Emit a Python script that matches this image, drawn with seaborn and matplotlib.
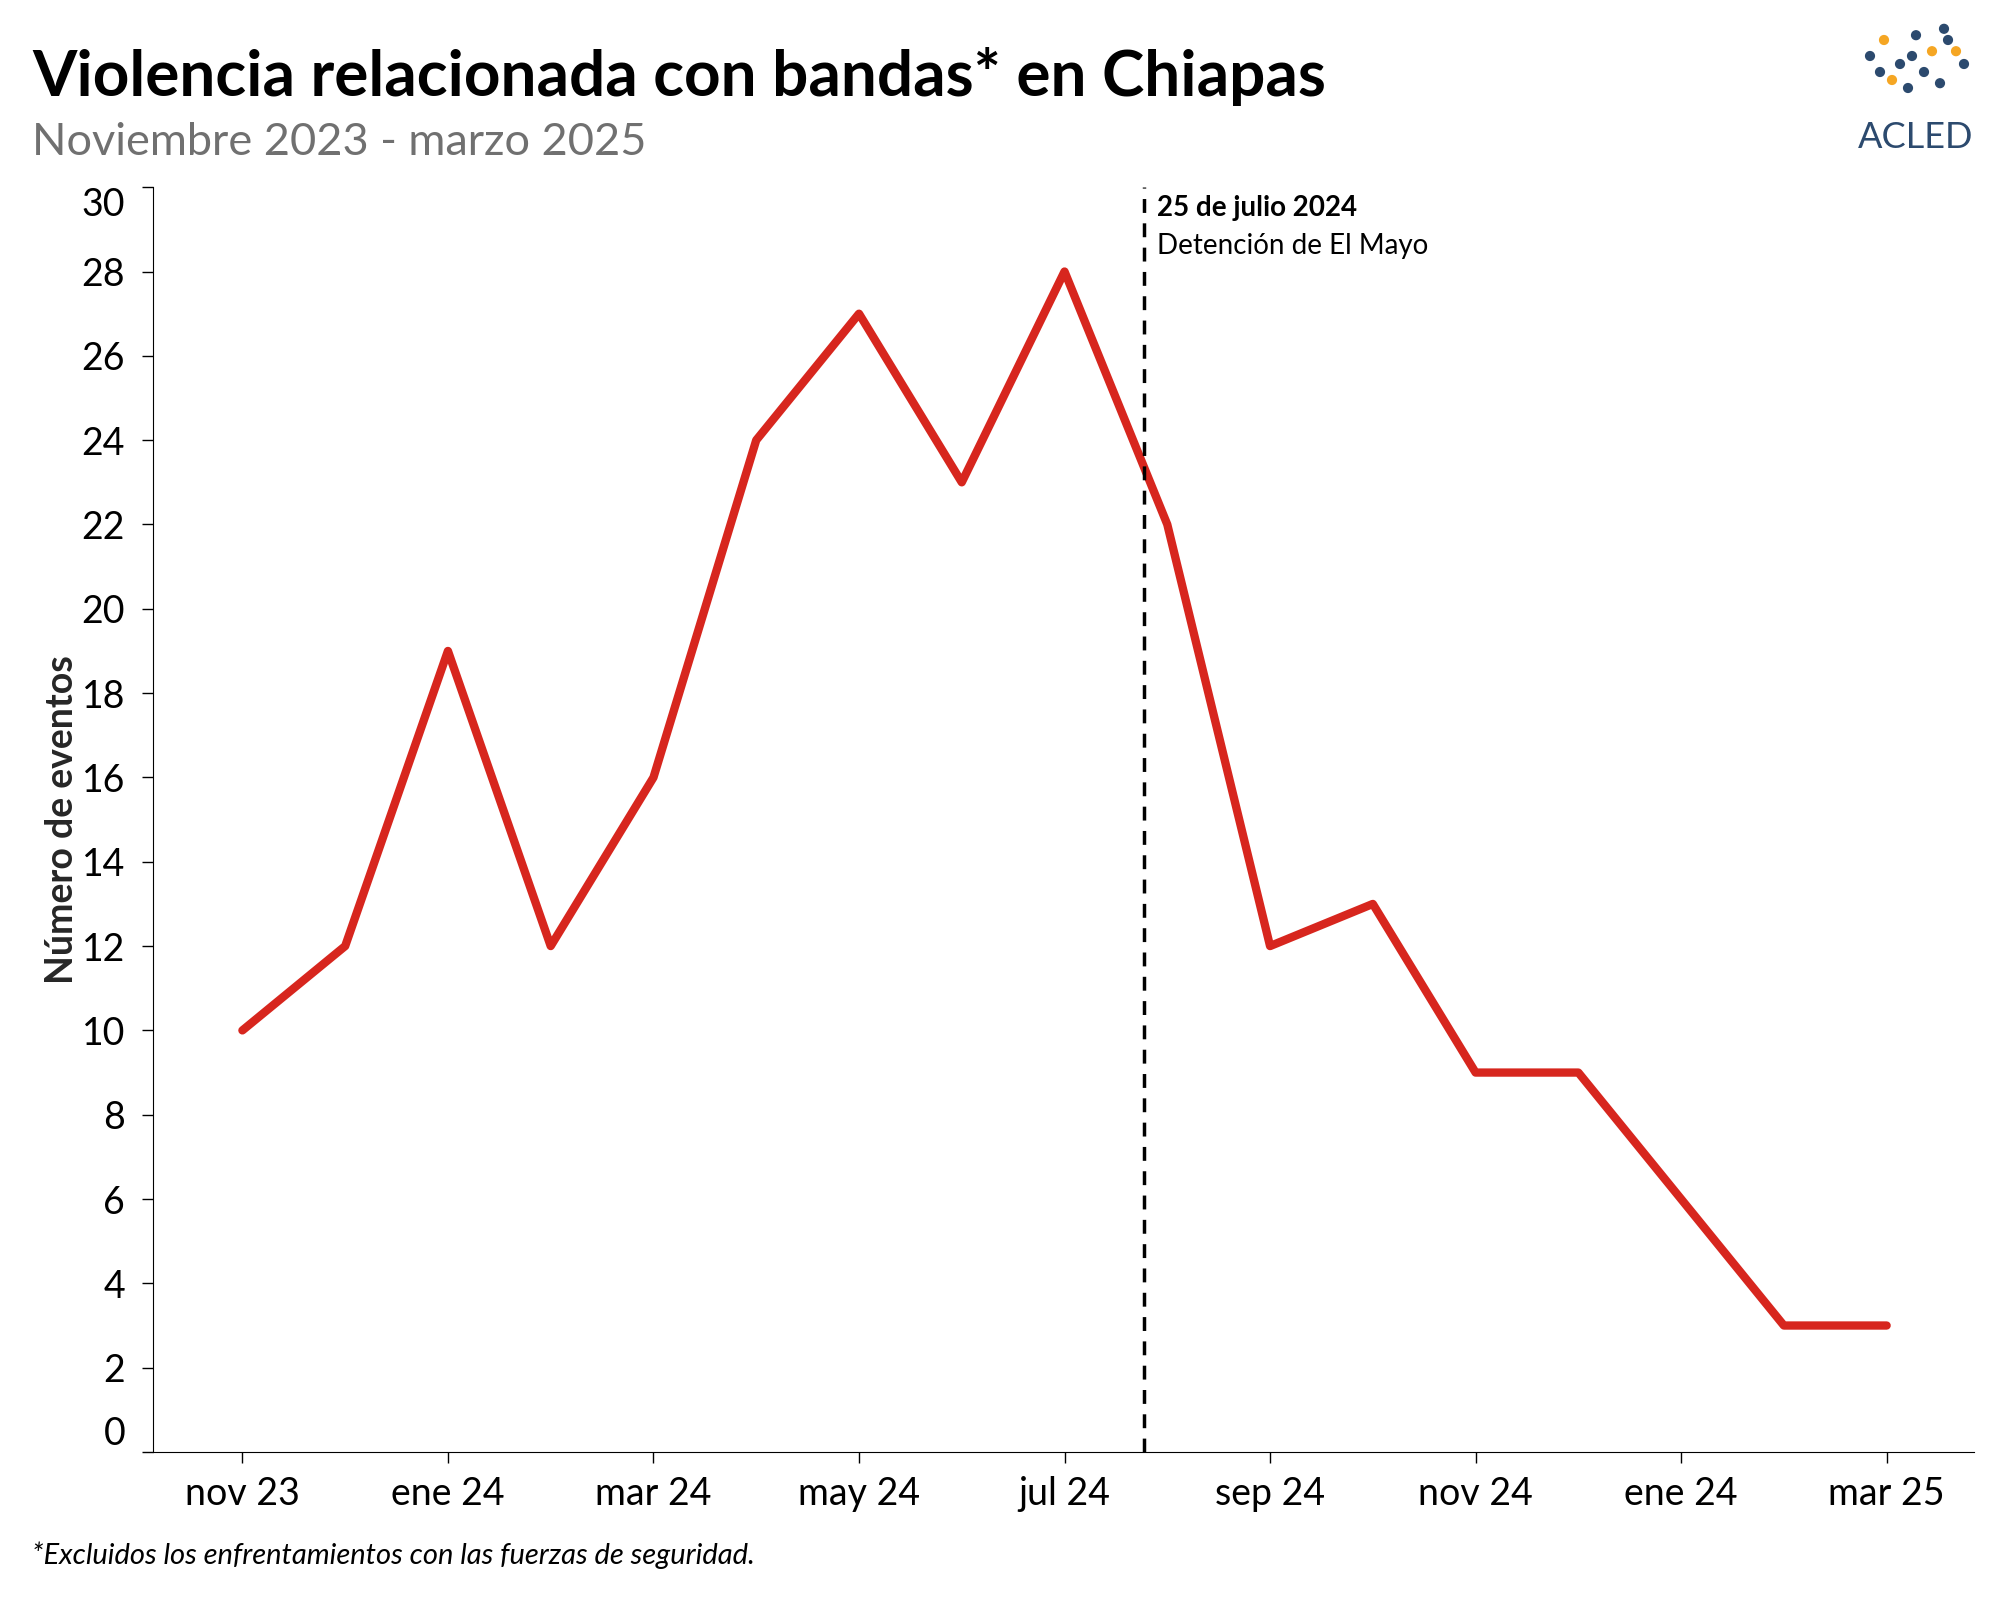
import numpy as np
import pandas as pd
import seaborn as sns
import matplotlib.pyplot as plt
from matplotlib import font_manager

months = ['nov 23', 'dic 23', 'ene 24', 'feb 24', 'mar 24', 'abr 24', 'may 24', 'jun 24', 'jul 24',
          'ago 24', 'sep 24', 'oct 24', 'nov 24', 'dic 24', 'ene 24', 'feb 25', 'mar 25']
events = [10, 12, 19, 12, 16, 24, 27, 23, 28, 22, 12, 13, 9, 9, 6, 3, 3]
tick_labels = ['nov 23', 'ene 24', 'mar 24', 'may 24', 'jul 24', 'sep 24', 'nov 24', 'ene 24', 'mar 25']
event_pos = 8.77  # 25 de julio 2024

# make sure Lato is registered
fam = 'DejaVu Sans'
for f in font_manager.findSystemFonts():
    if 'lato' in f.lower():
        font_manager.fontManager.addfont(f)
        fam = 'Lato'
sns.set_style('ticks')
plt.rcParams['font.family'] = fam
plt.rcParams['text.color'] = 'black'
plt.rcParams['xtick.color'] = 'black'
plt.rcParams['ytick.color'] = 'black'

df = pd.DataFrame({'x': np.arange(len(months)), 'events': events})

fig = plt.figure(figsize=(20, 16), dpi=100)
ax = fig.add_axes([0.0765, 0.0925, 0.9105, 0.7905])
sns.lineplot(data=df, x='x', y='events', ax=ax, color='#d7261e', linewidth=6)

ax.axvline(event_pos, color='black', linestyle=(0, (4, 3)), linewidth=2.5)
ax.text(event_pos + 0.13, 29.5, '25 de julio 2024', fontsize=20, fontweight='bold', va='center')
ax.text(event_pos + 0.13, 28.6, 'Detención de El Mayo', fontsize=20, va='center')

ax.set_xlim(-0.87, 16.85)
ax.set_ylim(0, 30)
ax.set_xticks([0, 2, 4, 6, 8, 10, 12, 14, 16])
ax.set_xticklabels(tick_labels, fontsize=27)
ax.set_yticks(range(0, 31, 2))
ax.set_yticklabels([str(v) for v in range(0, 31, 2)], fontsize=27)
ylabs = ax.get_yticklabels()
ylabs[0].set_va('bottom')
ylabs[-1].set_va('top')
for s in ax.spines.values():
    s.set_color('black')
ax.tick_params(axis='x', length=8, width=1, color='black', pad=9)
ax.tick_params(axis='y', length=8, width=1, color='black', pad=12)
ax.set_xlabel('')
ax.set_ylabel('Número de eventos', fontsize=27, fontweight='bold', labelpad=2)
sns.despine(ax=ax)

fig.text(0.016, 0.952, 'Violencia relacionada con bandas* en Chiapas', fontsize=46, fontweight='bold', va='center')
fig.text(0.016, 0.911, 'Noviembre 2023 - marzo 2025', fontsize=32.5, color='#707070', va='center')
fig.text(0.016, 0.028, '*Excluidos los enfrentamientos con las fuerzas de seguridad.', fontsize=21, style='italic', va='center')

# logo
fig.text(0.958, 0.914, 'ACLED', fontsize=26, color='#2c4a6e', ha='center', va='center')
lx = [0.935, 0.942, 0.95, 0.958, 0.966, 0.974, 0.982, 0.946, 0.954, 0.962, 0.970, 0.978, 0.94, 0.956, 0.972]
ly = [0.965, 0.975, 0.96, 0.978, 0.968, 0.975, 0.96, 0.95, 0.945, 0.955, 0.948, 0.968, 0.955, 0.965, 0.982]
lc = ['#2c4a6e', '#f5a623', '#2c4a6e', '#2c4a6e', '#f5a623', '#2c4a6e', '#2c4a6e', '#f5a623',
      '#2c4a6e', '#2c4a6e', '#2c4a6e', '#f5a623', '#2c4a6e', '#2c4a6e', '#2c4a6e']
lax = fig.add_axes([0, 0, 1, 1], facecolor='none')
lax.scatter(lx, ly, c=lc, s=40)
lax.set_xlim(0, 1)
lax.set_ylim(0, 1)
lax.axis('off')

fig.savefig('out.png', dpi=100)
